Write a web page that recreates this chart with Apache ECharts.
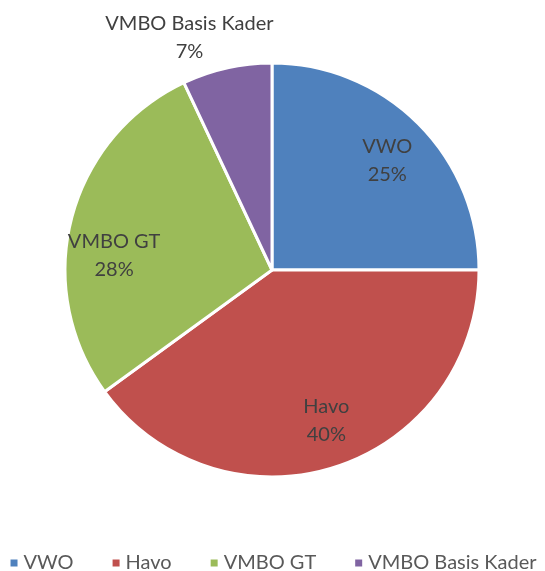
<!DOCTYPE html>
<html><head><meta charset="utf-8">
<script src="https://cdn.jsdelivr.net/npm/echarts@6/dist/echarts.min.js"></script>
<style>html,body{margin:0;padding:0;background:#fff}#c{width:545px;height:571px}</style>
</head><body><div id="c"></div>
<script>
const categories = ['VWO', 'Havo', 'VMBO GT', 'VMBO Basis Kader'];
const values = [25, 40, 28, 7];
const colors = ['#4F81BD', '#C0504D', '#9BBB59', '#8064A2'];

const chart = echarts.init(document.getElementById('c'), null, {renderer: 'canvas'});
const font = 'Lato, "Open Sans", sans-serif';
const labelOffsets = [[0, 6], [4, -4], [0, 26], [-47, -73]];
const mainData = categories.map((n, i) => ({name: n, value: values[i], itemStyle: {color: colors[i]}}));
const labelData = categories.map((n, i) => ({name: n, value: values[i], label: {offset: labelOffsets[i]}}));
chart.setOption({
  animation: false,
  legend: {
    bottom: -7, left: 'center', icon: 'rect', itemWidth: 9, itemHeight: 9, itemGap: 37,
    data: categories,
    textStyle: {color: '#595959', fontSize: 20, fontFamily: font}
  },
  series: [
    {
      type: 'pie', center: [272, 270], radius: [0, 207], startAngle: 90, clockwise: true,
      label: {show: false}, labelLine: {show: false},
      itemStyle: {borderColor: '#fff', borderWidth: 3},
      emphasis: {disabled: true},
      data: mainData
    },
    {
      type: 'pie', center: [272, 270], radius: [113, 207], startAngle: 90, clockwise: true,
      silent: true, legendHoverLink: false,
      itemStyle: {color: 'rgba(0,0,0,0)', borderWidth: 0},
      labelLine: {show: false},
      label: {show: true, position: 'inside', formatter: '{b}\n{d}%', color: '#404040',
        fontSize: 20, fontFamily: font, lineHeight: 28},
      emphasis: {disabled: true},
      data: labelData
    }
  ]
});
</script></body></html>
